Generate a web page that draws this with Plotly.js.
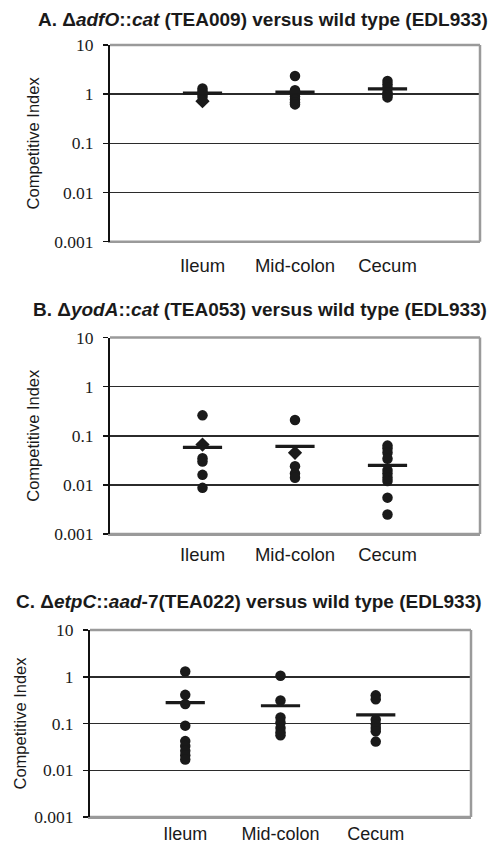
<!DOCTYPE html>
<html><head><meta charset="utf-8">
<script src="https://cdn.plot.ly/plotly-3.0.1.min.js"></script>
<style>html,body{margin:0;padding:0;background:#fff}#plot{width:493px;height:843px}</style>
</head><body><div id="plot"></div>
<script>
const categories = ['Ileum', 'Mid-colon', 'Cecum'];
const tickVals = [0.001, 0.01, 0.1, 1, 10];
const tickText = ['0.001', '0.01', '0.1', '1', '10'];

const panelTitles = [
  '<b>A. Δ<i>adfO</i>::<i>cat</i> (TEA009) versus wild type (EDL933)</b>',
  '<b>B. Δ<i>yodA</i>::<i>cat</i> (TEA053) versus wild type (EDL933)</b>',
  '<b>C. Δ<i>etpC</i>::<i>aad</i>-7(TEA022) versus wild type (EDL933)</b>'
];

// Panel A: circles per site, diamonds per site, means
const aIleum = [1.3, 1.15, 1.0, 0.88];
const aMid = [2.35, 1.2, 1.05, 0.9, 0.78, 0.68, 0.62];
const aCecum = [1.85, 1.6, 1.35, 1.1, 0.95, 0.86];
const aDiamond = [0.72, null, null];
const aMean = [1.05, 1.1, 1.28];

// Panel B
const bIleum = [0.26, 0.035, 0.03, 0.016, 0.0087];
const bMid = [0.21, 0.024, 0.017, 0.014];
const bCecum = [0.063, 0.055, 0.045, 0.034, 0.02, 0.017, 0.014, 0.012, 0.0055, 0.0025];
const bDiamond = [0.066, 0.045, null];
const bMean = [0.058, 0.061, 0.025];

// Panel C
const cIleum = [1.3, 0.41, 0.26, 0.09, 0.042, 0.033, 0.026, 0.021, 0.017];
const cMid = [1.05, 0.31, 0.135, 0.105, 0.08, 0.065, 0.056];
const cCecum = [0.40, 0.33, 0.12, 0.095, 0.08, 0.068, 0.041];
const cDiamond = [null, null, null];
const cMean = [0.28, 0.24, 0.153];

const panels = [
  {groups: [aIleum, aMid, aCecum], diamond: aDiamond, mean: aMean},
  {groups: [bIleum, bMid, bCecum], diamond: bDiamond, mean: bMean},
  {groups: [cIleum, cMid, cCecum], diamond: cDiamond, mean: cMean}
];

const W = 493, H = 843;
const boxes = [
  {l: 110, r: 480, t: 45, b: 241.7, titleX: 262.5, titleY: 19, standoff: 10, xstand: 7, xfs: 18.5},
  {l: 110, r: 480, t: 337.5, b: 534, titleX: 260, titleY: 310, standoff: 10, xstand: 3, xfs: 18.5},
  {l: 90, r: 471, t: 630, b: 817, titleX: 248.5, titleY: 601, standoff: 3, xstand: 0, xfs: 18}
];

const traces = [];
const layout = {
  width: W, height: H,
  margin: {l: 0, r: 0, t: 0, b: 0},
  paper_bgcolor: '#fff', plot_bgcolor: '#fff',
  showlegend: false,
  annotations: [], shapes: []
};

panels.forEach((p, i) => {
  const n = i === 0 ? '' : String(i + 1);
  const xa = 'x' + n, ya = 'y' + n;
  const bx = boxes[i];
  const xs = [], ys = [];
  p.groups.forEach((g, k) => g.forEach(v => { xs.push(categories[k]); ys.push(v); }));
  traces.push({type: 'scatter', mode: 'markers', x: xs, y: ys, xaxis: xa, yaxis: ya,
    marker: {symbol: 'circle', size: 10.5, color: '#1a1a1a'}, hoverinfo: 'skip'});
  const dx = [], dy = [];
  p.diamond.forEach((v, k) => { if (v !== null) { dx.push(categories[k]); dy.push(v); } });
  traces.push({type: 'scatter', mode: 'markers', x: dx, y: dy, xaxis: xa, yaxis: ya,
    marker: {symbol: 'diamond', size: 11, color: '#1a1a1a'}, hoverinfo: 'skip'});
  traces.push({type: 'scatter', mode: 'markers', x: categories, y: p.mean, xaxis: xa, yaxis: ya,
    marker: {symbol: 'line-ew', size: 28, line: {width: 3.2, color: '#1a1a1a'}}, hoverinfo: 'skip'});

  layout['xaxis' + n] = {
    domain: [bx.l / W, bx.r / W], anchor: ya,
    type: 'category', categoryorder: 'array', categoryarray: categories,
    range: [-1, 3], showgrid: false, zeroline: false,
    showline: true, linecolor: '#9a9a9a', linewidth: 1.5,
    ticks: '', ticklabelstandoff: bx.xstand,
    tickfont: {family: 'Liberation Sans, Arial, sans-serif', size: bx.xfs, color: '#1a1a1a'},
    fixedrange: true
  };
  layout['yaxis' + n] = {
    domain: [1 - bx.b / H, 1 - bx.t / H], anchor: xa,
    type: 'log', range: [-3, 1],
    tickmode: 'array', tickvals: tickVals, ticktext: tickText,
    showgrid: true, gridcolor: '#2b2b2b', gridwidth: 1.5,
    zeroline: false, showline: true, linecolor: '#111', linewidth: 2,
    ticks: 'outside', ticklen: 5, tickwidth: 1.5, tickcolor: '#111',
    ticklabelstandoff: 6,
    tickfont: {family: '"Liberation Serif", "Times New Roman", Times, serif', size: 17.5, color: '#1a1a1a'},
    title: {text: 'Competitive Index', standoff: bx.standoff,
      font: {family: 'Liberation Sans, Arial, sans-serif', size: 16.5, color: '#1a1a1a'}},
    fixedrange: true
  };
  // gray frame top/right/bottom
  const frameLine = {color: '#9a9a9a', width: 2.5};
  layout.shapes.push({type: 'line', xref: xa + ' domain', yref: ya + ' domain', x0: 0, x1: 1, y0: 1, y1: 1,
    line: frameLine, layer: 'above'});
  layout.shapes.push({type: 'line', xref: xa + ' domain', yref: ya + ' domain', x0: 1, x1: 1, y0: 0, y1: 1,
    line: frameLine, layer: 'above'});
  layout.shapes.push({type: 'line', xref: xa + ' domain', yref: ya + ' domain', x0: 0, x1: 1, y0: 0, y1: 0,
    line: frameLine, layer: 'above'});
  layout.annotations.push({text: panelTitles[i], xref: 'paper', yref: 'paper',
    x: bx.titleX / W, y: 1 - bx.titleY / H, xanchor: 'center', yanchor: 'middle', showarrow: false,
    font: {family: 'Liberation Sans, Arial, sans-serif', size: 19, color: '#1a1a1a'}});
});

Plotly.newPlot('plot', traces, layout, {displayModeBar: false, staticPlot: true});
</script></body></html>
